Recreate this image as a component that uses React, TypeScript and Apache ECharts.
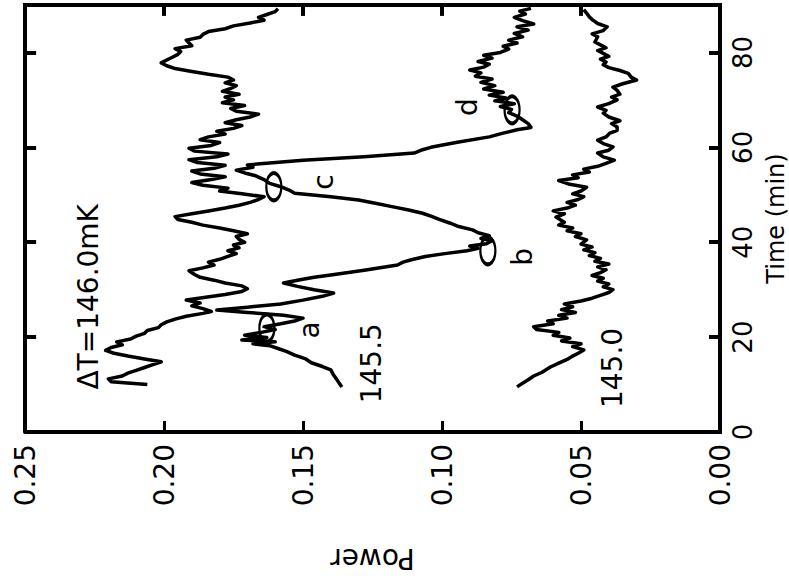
import React, { useEffect, useRef } from "react";
import * as echarts from "echarts";

// Power traces recorded at three temperature offsets, as [time (min), power] pairs.
const trace146_0: [number, number][] = [
  [10.0,0.206],[10.6,0.219],[11.2,0.220],[11.8,0.215],[12.4,0.213],[13.0,0.210],[13.6,0.207],[14.2,0.204],
  [14.8,0.201],[15.4,0.207],[16.0,0.213],[16.6,0.218],[17.2,0.221],[17.8,0.219],[18.4,0.215],[19.0,0.217],
  [19.6,0.212],[20.2,0.210],[20.8,0.207],[21.4,0.206],[22.0,0.202],[22.6,0.201],[23.2,0.199],[23.8,0.196],
  [24.4,0.192],[25.0,0.186],[25.4,0.183],[26.0,0.186],[26.6,0.190],[27.2,0.187],[27.8,0.192],[28.4,0.185],
  [29.0,0.178],[29.6,0.172],[30.2,0.170],[30.8,0.172],[31.4,0.178],[32.0,0.182],[32.6,0.187],[33.2,0.189],
  [34.0,0.191],[34.6,0.186],[35.2,0.182],[35.8,0.184],[36.4,0.180],[37.0,0.177],[37.6,0.174],[38.2,0.177],
  [38.8,0.173],[39.4,0.175],[40.0,0.171],[40.6,0.173],[41.2,0.174],[41.8,0.170],[42.4,0.175],[43.0,0.180],
  [43.6,0.186],[44.2,0.190],[44.8,0.195],[45.4,0.196],[46.0,0.190],[46.6,0.184],[47.2,0.178],[47.8,0.173],
  [48.4,0.169],[49.0,0.166],[49.6,0.164],[50.2,0.172],[50.8,0.180],[51.4,0.177],[52.0,0.186],[52.6,0.190],
  [53.2,0.183],[53.8,0.178],[54.4,0.187],[55.0,0.190],[55.6,0.182],[56.2,0.178],[56.8,0.188],[57.4,0.191],
  [58.0,0.181],[58.6,0.177],[59.2,0.189],[59.8,0.191],[60.4,0.183],[61.0,0.180],[61.6,0.187],[62.2,0.184],
  [62.8,0.178],[63.4,0.181],[64.0,0.175],[64.6,0.172],[65.2,0.178],[65.8,0.174],[66.4,0.169],[67.0,0.166],
  [67.6,0.174],[68.2,0.176],[68.8,0.171],[69.4,0.179],[70.0,0.175],[70.6,0.178],[71.2,0.173],[71.8,0.179],
  [72.4,0.176],[73.0,0.174],[73.6,0.178],[74.2,0.175],[74.8,0.177],[75.4,0.184],[76.0,0.190],[76.6,0.196],
  [77.2,0.199],[77.8,0.201],[78.4,0.199],[79.0,0.197],[79.6,0.195],[80.2,0.194],[80.8,0.196],[81.4,0.190],
  [82.0,0.191],[82.6,0.192],[83.2,0.187],[83.8,0.186],[84.4,0.184],[85.0,0.178],[85.6,0.175],[86.2,0.169],
  [86.8,0.164],[87.4,0.166],[88.0,0.163],[88.6,0.160],[89.2,0.159],
];

const trace145_5: [number, number][] = [
  [9.5,0.136],[10.3,0.137],[11.2,0.138],[12.0,0.139],[13.1,0.140],[13.8,0.143],[14.6,0.147],[15.4,0.149],
  [16.2,0.153],[17.0,0.156],[17.6,0.159],[18.2,0.162],[18.6,0.168],[19.0,0.160],[19.4,0.172],[19.9,0.163],
  [20.4,0.171],[21.0,0.165],[21.6,0.160],[22.2,0.164],[22.8,0.158],[23.4,0.153],[24.0,0.150],[24.6,0.157],
  [25.2,0.170],[25.7,0.181],[26.3,0.170],[27.0,0.158],[27.8,0.150],[28.6,0.143],[29.3,0.139],[30.0,0.146],
  [30.7,0.152],[31.4,0.157],[32.0,0.152],[32.6,0.146],[33.1,0.140],[34.1,0.128],[35.2,0.116],[35.8,0.114],
  [36.3,0.111],[37.0,0.106],[37.6,0.099],[38.2,0.091],[38.7,0.087],[39.2,0.090],[39.7,0.084],[40.3,0.082],
  [40.8,0.086],[41.4,0.083],[42.0,0.087],[42.6,0.089],[43.3,0.094],[44.0,0.097],[44.8,0.101],[45.5,0.104],
  [46.1,0.107],[46.8,0.112],[47.5,0.118],[48.2,0.124],[48.9,0.130],[49.6,0.140],[50.3,0.153],[51.0,0.155],
  [51.7,0.158],[52.4,0.162],[53.2,0.164],[54.0,0.167],[54.6,0.171],[55.2,0.174],[55.8,0.168],[56.3,0.170],
  [56.7,0.162],[57.3,0.150],[58.0,0.128],[58.8,0.110],[59.5,0.107],[60.0,0.104],[61.0,0.095],[62.2,0.083],
  [63.0,0.078],[63.7,0.073],[64.2,0.068],[65.0,0.069],[65.8,0.071],[66.6,0.073],[67.3,0.076],[68.0,0.075],
  [68.6,0.079],[69.2,0.074],[69.8,0.081],[70.4,0.077],[71.0,0.083],[71.6,0.078],[72.3,0.085],[73.0,0.081],
  [73.7,0.086],[74.4,0.082],[75.0,0.088],[75.7,0.086],[76.3,0.090],[76.9,0.085],[77.5,0.083],[78.1,0.087],
  [78.8,0.082],[79.4,0.085],[80.0,0.079],[80.7,0.076],[81.3,0.078],[82.0,0.073],[82.6,0.076],[83.3,0.071],
  [84.0,0.074],[84.7,0.069],[85.4,0.073],[86.0,0.067],[86.7,0.071],[87.4,0.074],[88.1,0.070],[88.7,0.072],
  [89.3,0.068],
];

const trace145_0: [number, number][] = [
  [9.5,0.073],[10.3,0.071],[11.0,0.069],[11.8,0.067],[12.6,0.064],[13.7,0.061],[14.5,0.058],[15.3,0.055],
  [16.0,0.053],[16.6,0.051],[17.3,0.049],[18.0,0.053],[18.6,0.050],[19.2,0.057],[19.8,0.054],[20.4,0.060],
  [21.0,0.058],[21.6,0.066],[22.2,0.067],[22.8,0.060],[23.4,0.062],[24.0,0.055],[24.6,0.058],[25.2,0.052],
  [25.8,0.057],[26.4,0.053],[27.0,0.056],[27.6,0.050],[28.2,0.046],[28.8,0.043],[29.4,0.040],[30.0,0.0385],
  [30.6,0.042],[31.2,0.040],[31.8,0.044],[32.4,0.042],[33.0,0.046],[33.6,0.043],[34.2,0.041],[34.8,0.044],
  [35.4,0.040],[36.0,0.045],[36.6,0.043],[37.2,0.047],[37.8,0.045],[38.4,0.049],[39.0,0.046],[39.6,0.050],
  [40.5,0.048],[41.2,0.052],[41.8,0.050],[42.4,0.055],[43.0,0.053],[43.6,0.058],[44.2,0.056],[45.3,0.059],
  [46.0,0.056],[46.6,0.060],[47.2,0.055],[47.8,0.052],[48.4,0.055],[49.0,0.051],[49.6,0.049],[50.2,0.053],
  [50.8,0.050],[51.6,0.048],[52.2,0.054],[53.0,0.058],[53.6,0.051],[54.2,0.053],[54.8,0.047],[55.4,0.049],
  [56.0,0.044],[56.6,0.041],[57.3,0.038],[58.0,0.042],[58.8,0.044],[59.4,0.040],[60.1,0.0385],[60.8,0.042],
  [61.5,0.044],[62.2,0.041],[63.0,0.0396],[63.6,0.037],[64.3,0.037],[65.0,0.039],[65.6,0.036],[66.4,0.040],
  [67.2,0.042],[67.8,0.041],[68.5,0.044],[69.2,0.040],[70.0,0.037],[70.6,0.039],[71.2,0.036],[72.0,0.037],
  [72.7,0.0385],[73.4,0.035],[74.2,0.030],[74.8,0.032],[75.6,0.033],[76.2,0.036],[76.8,0.040],[77.4,0.042],
  [78.0,0.041],[78.6,0.043],[79.2,0.040],[79.8,0.042],[80.4,0.044],[81.0,0.041],[81.6,0.043],[82.2,0.045],
  [83.3,0.044],[83.9,0.046],[84.6,0.042],[85.4,0.0406],[86.1,0.044],[86.8,0.0457],[87.5,0.047],[88.3,0.048],
  [89.0,0.049],
];

// Circled points a-d on the 145.5 trace, as [time, power].
const circledPoints: [number, number][] = [
  [21.9, 0.163],
  [38.2, 0.0835],
  [51.7, 0.1605],
  [67.9, 0.0748],
];

// Text annotations placed in data space: [time, power, text].
const notes: [number, number, string][] = [
  [21.5, 0.1475, "a"],
  [36.9, 0.0712, "b"],
  [52.7, 0.1428, "c"],
  [68.5, 0.0907, "d"],
  [28.5, 0.2273, "ΔT=146.0mK"],
  [14.5, 0.1252, "145.5"],
  [13.5, 0.0388, "145.0"],
];

// Axis ranges and the tick values mirrored on the top and left edges.
const POWER_RANGE: [number, number] = [0, 0.25];
const TIME_RANGE: [number, number] = [0, 90];
const POWER_TICKS = [0.05, 0.1, 0.15, 0.2];
const TIME_TICKS = [20, 40, 60, 80];

const FONT = "DejaVu Sans";
// Inward tick length expressed in each axis' units (about 11 px on screen).
const TICK_TIME = 2.3;
const TICK_POWER = 0.004;

const toXY = (pts: [number, number][]) => pts.map(([t, p]) => [p, t]);

export default function App() {
  const ref = useRef<HTMLDivElement>(null);

  useEffect(() => {
    document.body.style.margin = "0";
    if (!ref.current) return;
    const chart = echarts.init(ref.current, undefined, { renderer: "svg" });

    const [pMin, pMax] = POWER_RANGE;
    const [tMin, tMax] = TIME_RANGE;

    const lineSeries = (name: string, pts: [number, number][]) => ({
      name,
      type: "line" as const,
      data: toXY(pts),
      showSymbol: false,
      symbol: "none",
      lineStyle: { color: "#000", width: 3.5, join: "round" as const },
      z: 3,
    });

    const mirroredTicks = [
      ...POWER_TICKS.map((p) => [{ coord: [p, tMax] }, { coord: [p, tMax - TICK_TIME] }]),
      ...TIME_TICKS.map((t) => [{ coord: [pMax, t] }, { coord: [pMax - TICK_POWER, t] }]),
    ];

    chart.setOption({
      animation: false,
      backgroundColor: "#fff",
      grid: { left: 25, right: 69, top: 5, bottom: 152, outerBoundsMode: "none" },
      xAxis: {
        type: "value",
        position: "bottom",
        min: pMin,
        max: pMax,
        interval: 0.05,
        inverse: true,
        splitLine: { show: false },
        axisLine: { show: true, onZero: false, lineStyle: { color: "#000", width: 4 } },
        axisTick: { show: true, inside: true, length: 11, lineStyle: { color: "#000", width: 3 } },
        axisLabel: {
          rotate: 90,
          margin: 12,
          fontSize: 28,
          fontFamily: FONT,
          color: "#000",
          formatter: (v: number) => v.toFixed(2),
        },
        name: "Power",
        nameLocation: "middle",
        nameRotate: 180,
        nameGap: 112,
        nameMoveOverlap: false,
        nameTextStyle: { fontSize: 28, fontFamily: FONT, color: "#000" },
      },
      yAxis: {
        type: "value",
        position: "right",
        min: tMin,
        max: tMax,
        interval: 20,
        splitLine: { show: false },
        axisLine: { show: true, onZero: false, lineStyle: { color: "#000", width: 4 } },
        axisTick: { show: true, inside: true, length: 11, lineStyle: { color: "#000", width: 4 } },
        axisLabel: {
          rotate: 90,
          margin: 10,
          fontSize: 26,
          fontFamily: FONT,
          color: "#000",
          showMaxLabel: false,
        },
        name: "Time (min)",
        nameLocation: "middle",
        nameRotate: 90,
        nameGap: 44,
        nameMoveOverlap: false,
        nameTextStyle: { fontSize: 24, fontFamily: FONT, color: "#000" },
      },
      series: [
        lineSeries("146.0", trace146_0),
        lineSeries("145.5", trace145_5),
        lineSeries("145.0", trace145_0),
        {
          name: "circled",
          type: "scatter",
          data: toXY(circledPoints),
          symbol: "circle",
          symbolSize: [15, 27],
          itemStyle: { color: "transparent", borderColor: "#000", borderWidth: 3, opacity: 1 },
          z: 4,
        },
        {
          name: "notes",
          type: "scatter",
          data: notes.map(([t, p, text]) => ({ value: [p, t], name: text })),
          symbolSize: 1,
          itemStyle: { color: "transparent", opacity: 1 },
          label: {
            show: true,
            position: "inside",
            rotate: 90,
            formatter: "{b}",
            fontSize: 28,
            fontFamily: FONT,
            color: "#000",
          },
          z: 5,
        },
        {
          // Closed plot frame, with inward ticks mirrored on the top and left edges.
          name: "frame",
          type: "line",
          data: [[pMax, tMin], [pMax, tMax], [pMin, tMax], [pMin, tMin], [pMax, tMin]],
          showSymbol: false,
          symbol: "none",
          clip: false,
          silent: true,
          lineStyle: { color: "#000", width: 4, join: "miter" as const },
          markLine: {
            silent: true,
            symbol: "none",
            label: { show: false },
            lineStyle: { color: "#000", width: 4, type: "solid" },
            data: mirroredTicks,
          },
          z: 10,
        },
      ],
    });

    return () => chart.dispose();
  }, []);

  return <div ref={ref} style={{ width: 789, height: 584 }} />;
}
